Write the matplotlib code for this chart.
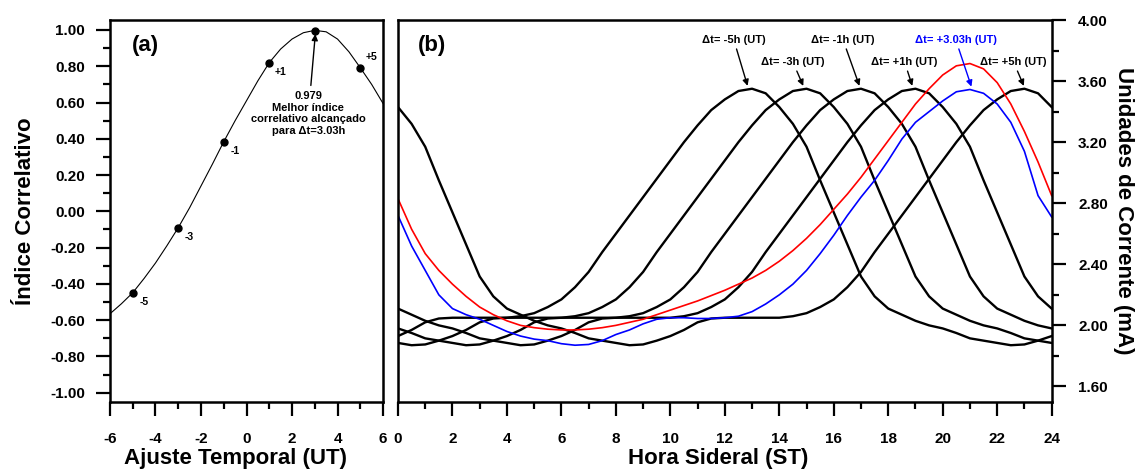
import numpy as np
import matplotlib.pyplot as plt
from matplotlib.ticker import MultipleLocator, FormatStrFormatter

plt.rcParams['font.family'] = ['Liberation Sans', 'DejaVu Sans']
plt.rcParams['font.weight'] = 'bold'
plt.rcParams['axes.labelweight'] = 'bold'
plt.rcParams['axes.unicode_minus'] = False

# ---- panel (a): correlation index vs time adjustment
fit_x = np.arange(-6, 6.5, 0.5)
fit_y = [-0.565, -0.51, -0.449, -0.37, -0.285, -0.19, -0.09, 0.02, 0.14, 0.26,
         0.384, 0.50, 0.61, 0.72, 0.82, 0.895, 0.95, 0.985, 0.998, 0.99,
         0.95, 0.88, 0.792, 0.70, 0.595]
pts_x = [-5, -3, -1, 1, 3.03, 5]
pts_y = [-0.449, -0.09, 0.384, 0.82, 0.995, 0.792]
pts_lbl = ['-5', '-3', '-1', '+1', '', '+5']

# ---- panel (b): current vs sidereal hour (0.5 h steps)
hours = np.arange(0, 24.5, 0.5)
# curve for dt = -5h (UT), hours 0 .. 23.5; the other dt curves are the same profile moved in time
profile_m5 = [1.93, 1.97, 2.02, 2.045, 2.05, 2.05, 2.05, 2.05, 2.05, 2.06,
              2.08, 2.12, 2.17, 2.25, 2.35, 2.48, 2.60, 2.72, 2.84, 2.96,
              3.08, 3.20, 3.31, 3.41, 3.48, 3.535, 3.55, 3.52, 3.43, 3.32,
              3.17, 2.95, 2.74, 2.53, 2.32, 2.19, 2.11, 2.07, 2.03, 2.00,
              1.98, 1.95, 1.915, 1.90, 1.885, 1.87, 1.875, 1.90]
shifts = [-5, -3, -1, 1, 5]
best_blue = [2.72, 2.52, 2.36, 2.20, 2.11, 2.07, 2.04, 2.00, 1.96, 1.93,
             1.91, 1.90, 1.88, 1.87, 1.875, 1.90, 1.94, 1.97, 2.01, 2.04,
             2.05, 2.05, 2.045, 2.045, 2.05, 2.06, 2.09, 2.14, 2.20, 2.27,
             2.36, 2.47, 2.59, 2.72, 2.84, 2.95, 3.08, 3.22, 3.33, 3.40,
             3.47, 3.53, 3.545, 3.52, 3.45, 3.33, 3.14, 2.85, 2.71]
fit_red = [2.83, 2.63, 2.47, 2.36, 2.27, 2.19, 2.12, 2.07, 2.03, 2.00,
           1.985, 1.975, 1.97, 1.97, 1.975, 1.985, 2.00, 2.02, 2.04, 2.07,
           2.10, 2.13, 2.16, 2.195, 2.23, 2.27, 2.31, 2.36, 2.42, 2.49,
           2.57, 2.66, 2.76, 2.86, 2.97, 3.09, 3.21, 3.33, 3.45, 3.55,
           3.64, 3.70, 3.715, 3.68, 3.59, 3.45, 3.27, 3.07, 2.85]

fig = plt.figure(figsize=(11.41, 4.70), dpi=100)
ax_a = fig.add_axes([0.0964, 0.1453, 0.2393, 0.8121])
ax_b = fig.add_axes([0.3488, 0.1453, 0.5729, 0.8121])

for ax in (ax_a, ax_b):
    for s in ax.spines.values():
        s.set_linewidth(1.8)
    ax.tick_params(which='both', direction='out', width=1.6, labelsize=11)
    ax.tick_params(which='major', length=10)
    ax.tick_params(which='minor', length=5)
    ax.tick_params(axis='x', pad=12)

# panel (a)
ax_a.plot(fit_x, fit_y, color='black', lw=0.8)
ax_a.plot(pts_x, pts_y, 'o', color='black', ms=5)
for x, y, t in zip(pts_x, pts_y, pts_lbl):
    off = (8, 8) if t == '+5' else (8, -7)
    ax_a.annotate(t, (x, y), xytext=off, textcoords='offset points',
                  fontsize=7.5, ha='center', va='center')
ax_a.annotate('0.979\nMelhor índice\ncorrelativo alcançado\npara Δt=3.03h',
              xy=(3.03, 0.985), xytext=(2.72, 0.54), ha='center', va='center',
              fontsize=8, linespacing=1.2,
              arrowprops=dict(arrowstyle='-|>', color='black', lw=1.0,
                              mutation_scale=9, shrinkA=2, shrinkB=1))
ax_a.text(0.13, 0.934, '(a)', transform=ax_a.transAxes, fontsize=16,
          ha='center', va='center')
ax_a.set_xlim(-6, 6)
ax_a.set_ylim(-1.05, 1.055)
ax_a.xaxis.set_major_locator(MultipleLocator(2))
ax_a.xaxis.set_minor_locator(MultipleLocator(1))
ax_a.yaxis.set_major_locator(MultipleLocator(0.2))
ax_a.yaxis.set_minor_locator(MultipleLocator(0.1))
ax_a.yaxis.set_major_formatter(FormatStrFormatter('%.2f'))
ax_a.tick_params(axis='y', pad=8)
ax_a.tick_params(top=False, right=False, which='both')
ax_a.set_xlabel('Ajuste Temporal (UT)', fontsize=16)
ax_a.set_ylabel('Índice Correlativo', fontsize=16, labelpad=10)
ax_a.xaxis.set_label_coords(0.46, -0.122)

# panel (b)
base = np.array(profile_m5)
for s in shifts:
    k = int((s - shifts[0]) * 2)
    c = np.roll(base, k)
    ax_b.plot(hours, np.append(c, c[0]), color='black', lw=1.7)
ax_b.plot(hours, fit_red, color='red', lw=1.2)
ax_b.plot(hours, best_blue, color='blue', lw=1.2)

labels_b = [('Δt= -5h (UT)', 12.33, 3.87, 12.85, 3.56, 'black'),
            ('Δt= -3h (UT)', 14.5, 3.725, 14.9, 3.56, 'black'),
            ('Δt= -1h (UT)', 16.34, 3.87, 16.96, 3.56, 'black'),
            ('Δt= +1h (UT)', 18.6, 3.725, 18.9, 3.56, 'black'),
            ('Δt= +3.03h (UT)', 20.48, 3.87, 21.07, 3.555, 'blue'),
            ('Δt= +5h (UT)', 22.6, 3.725, 23.0, 3.56, 'black')]
for t, tx, ty, ax_, ay, col in labels_b:
    ax_b.annotate(t, xy=(ax_, ay), xytext=(tx, ty), ha='center', va='center',
                  fontsize=8, color=col,
                  arrowprops=dict(arrowstyle='-|>', color=col, lw=1.0,
                                  mutation_scale=9, shrinkA=1, shrinkB=1))
ax_b.text(0.052, 0.934, '(b)', transform=ax_b.transAxes, fontsize=16,
          ha='center', va='center')
ax_b.set_xlim(0, 24)
ax_b.set_ylim(1.5, 4.0)
ax_b.xaxis.set_major_locator(MultipleLocator(2))
ax_b.xaxis.set_minor_locator(MultipleLocator(1))
ax_b.yaxis.set_major_locator(MultipleLocator(0.4))
ax_b.yaxis.set_minor_locator(MultipleLocator(0.2))
ax_b.yaxis.set_major_formatter(FormatStrFormatter('%.2f'))
ax_b.yaxis.tick_right()
ax_b.yaxis.set_label_position('right')
ax_b.tick_params(axis='y', pad=9)
ax_b.tick_params(which='both', left=False, top=False)
ax_b.set_xlabel('Hora Sideral (ST)', fontsize=16)
ax_b.set_ylabel('Unidades de Corrente (mA)', fontsize=16, rotation=270,
                labelpad=19)
ax_b.xaxis.set_label_coords(0.49, -0.122)

fig.savefig('out.png', dpi=100)
